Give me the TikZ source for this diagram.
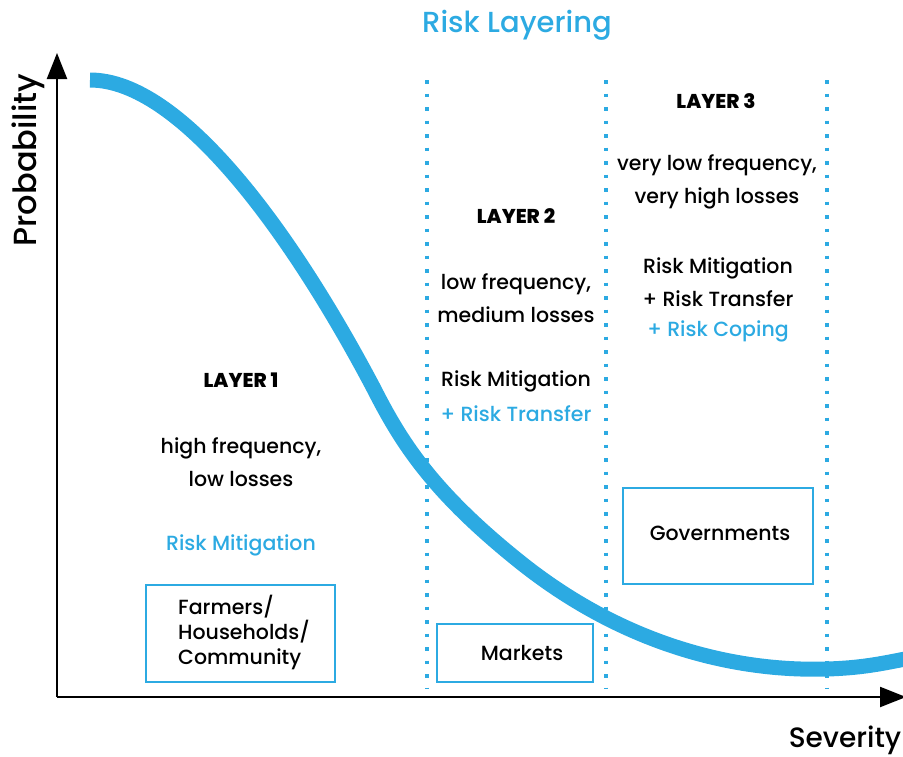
\documentclass[tikz,border=0pt]{standalone}
\usepackage{fontspec}
\setmainfont{Poppins}[UprightFont={* Medium},BoldFont={* ExtraBold}]
\usetikzlibrary{arrows.meta}
\definecolor{rblue}{RGB}{44,170,226}
\begin{document}
\begin{tikzpicture}[x=1pt,y=-1pt,
  body/.style={font=\fontsize{20.5}{33}\selectfont, align=center, inner sep=0pt},
  layerlbl/.style={font=\fontsize{20}{22}\selectfont\bfseries, inner sep=0pt},
  bluetxt/.style={body, text=rblue},
  boxnode/.style={draw=rblue, line width=1.5pt, minimum width=#1, inner sep=0pt},
  sep/.style={draw=rblue, line width=3.5pt, dash pattern=on 3.5pt off 10pt},
  axis/.style={line width=2.2pt, -{Triangle[length=26pt,width=20pt]}},
]
\useasboundingbox (0,0) rectangle (903,756);
% axes
\coordinate (origin) at (57,697);
\coordinate (ytop) at (57,53);
\coordinate (xend) at (906,697);
\draw[axis] (origin) -- (ytop);
\draw[axis] (origin) -- (xend);
% separators
\coordinate (s1t) at (427,80); \coordinate (s1b) at (427,688);
\coordinate (s2t) at (606,80); \coordinate (s2b) at (606,688);
\coordinate (s3t) at (827,80); \coordinate (s3b) at (827,688);
\draw[sep] (s1t) -- (s1b);
\draw[sep] (s2t) -- (s2b);
\draw[sep] (s3t) -- (s3b);
% curve
\coordinate (c0) at (90,80);
\coordinate (c1) at (373,387);
\coordinate (c2) at (520,562);
\coordinate (c3) at (827,669);
\coordinate (c4) at (905,659);
\draw[rblue, line width=15pt]
  (c0) .. controls (180,80) and (290,230) .. (c1)
       .. controls (400,440) and (430,490) .. (c2)
       .. controls (620,642) and (730,672) .. (c3)
       .. controls (860,668) and (880,664) .. (c4);
% title and axis labels
\node[text=rblue, font=\fontsize{29}{32}\selectfont, inner sep=0pt] (title) at (517,25) {Risk Layering};
\node[rotate=90, font=\fontsize{32}{34}\selectfont, inner sep=0pt] (prob) at (28,160) {Probability};
\node[font=\fontsize{28}{30}\selectfont, inner sep=0pt] (sev) at (845,740) {Severity};
% layer 1
\node[layerlbl] (l1) at (241,380) {LAYER 1};
\node[body] (l1f) at (241,462) {high frequency,\\low losses};
\node[bluetxt] (l1m) at (241,545) {Risk Mitigation};
\node[boxnode=189pt, minimum height=97pt] (farm) at (240.5,633.5) {};
\node[body, align=left, anchor=west] (farmt) at (178,632) {Farmers/\\[-8pt]Households/\\[-8pt]Community};
% layer 2
\node[layerlbl] (l2) at (516,216) {LAYER 2};
\node[body] (l2f) at (516,298) {low frequency,\\medium losses};
\node[body] (l2m) at (516,381) {Risk Mitigation};
\node[bluetxt] (l2t) at (516,414) {+ Risk Transfer};
\node[boxnode=156pt, minimum height=58pt] (mkt) at (515,653) {};
\node[body] (mktt) at (522,653) {Markets};
% layer 3
\node[layerlbl] (l3) at (716,101) {LAYER 3};
\node[body] (l3f) at (717,182) {very low frequency,\\very high losses};
\node[body] (l3m) at (718,282) {Risk Mitigation\\+ Risk Transfer};
\node[bluetxt] (l3c) at (718,331) {+ Risk Coping};
\node[boxnode=190pt, minimum height=96pt] (gov) at (718,536) {};
\node[body] (govt) at (720,533) {Governments};
\end{tikzpicture}
\end{document}
